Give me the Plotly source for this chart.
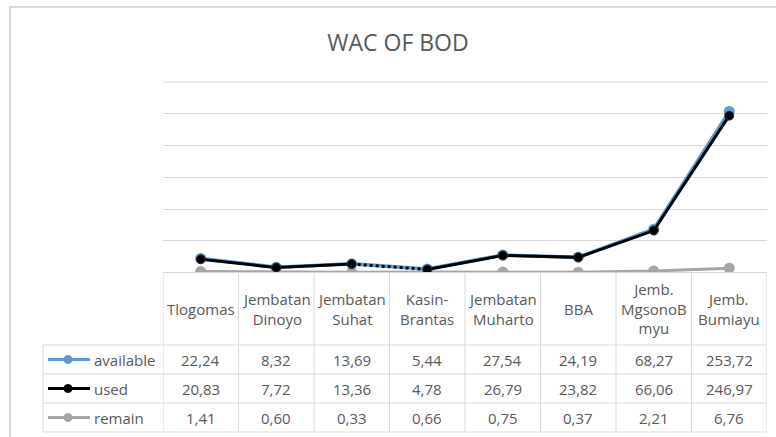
import plotly.graph_objects as go

W, H = 776, 437

categories = ['Tlogomas', 'Jembatan Dinoyo', 'Jembatan Suhat', 'Kasin-Brantas',
              'Jembatan Muharto', 'BBA', 'Jemb. MgsonoBmyu', 'Jemb. Bumiayu']
header_labels = ['Tlogomas', 'Jembatan<br>Dinoyo', 'Jembatan<br>Suhat', 'Kasin-<br>Brantas',
                 'Jembatan<br>Muharto', 'BBA', 'Jemb.<br>MgsonoB<br>myu', 'Jemb.<br>Bumiayu']
available = [22.24, 8.32, 13.69, 5.44, 27.54, 24.19, 68.27, 253.72]
used = [20.83, 7.72, 13.36, 4.78, 26.79, 23.82, 66.06, 246.97]
remain = [1.41, 0.60, 0.33, 0.66, 0.75, 0.37, 2.21, 6.76]
y_grid = [0, 50, 100, 150, 200, 250, 300]

BLUE = '#5B9BD5'
BLACK = '#000000'
GRAY = '#A5A5A5'
GRID = '#D9D9D9'
TEXT = '#595959'
FONT = 'Open Sans'
FS = 15


def px(x):
    return x / W


def py(y):
    return 1 - y / H


fig = go.Figure()

fig.add_trace(go.Scatter(
    x=categories, y=remain, mode='lines+markers', name='remain',
    line=dict(color=GRAY, width=3), marker=dict(size=11, color=GRAY)))

fig.add_trace(go.Scatter(
    x=categories, y=available, mode='lines+markers', name='available',
    line=dict(color=BLUE, width=3.5), marker=dict(size=11, color=BLUE)))

# used line: solid except the Suhat -> Kasin-Brantas segment, which is dotted
fig.add_trace(go.Scatter(
    x=categories[:3], y=used[:3], mode='lines', showlegend=False,
    line=dict(color=BLACK, width=3)))
fig.add_trace(go.Scatter(
    x=categories[3:], y=used[3:], mode='lines', showlegend=False,
    line=dict(color=BLACK, width=3)))
fig.add_trace(go.Scatter(
    x=categories[2:4], y=used[2:4], mode='lines', showlegend=False,
    line=dict(color=BLACK, width=3, dash='dot')))
fig.add_trace(go.Scatter(
    x=categories, y=used, mode='markers', name='used',
    marker=dict(size=9, color=BLACK, line=dict(color='#333333', width=1))))

shapes = []
annotations = []

# outer chart border
shapes.append(dict(type='rect', xref='paper', yref='paper',
                   x0=px(10), x1=px(790), y0=py(450), y1=py(7),
                   line=dict(color='#D9D9D9', width=2)))

# top gridline (plotly skips the one on the plot edge), drawn in paper coords
t_left, t_right = 163, 767
plot_top, plot_bottom = 82, 272.5
shapes.append(dict(type='line', xref='paper', yref='paper',
                   x0=px(t_left), x1=px(t_right), y0=py(plot_top), y1=py(plot_top),
                   line=dict(color=GRID, width=1)))

# data table grid
label_left = 43
row_lines = [345, 374, 403, 432]
shapes.append(dict(type='line', xref='paper', yref='paper',
                   x0=px(t_left), x1=px(t_right), y0=py(plot_bottom), y1=py(plot_bottom),
                   line=dict(color=GRID, width=1)))
for ry in row_lines:
    shapes.append(dict(type='line', xref='paper', yref='paper',
                       x0=px(label_left), x1=px(t_right), y0=py(ry), y1=py(ry),
                       line=dict(color=GRID, width=1)))
shapes.append(dict(type='line', xref='paper', yref='paper',
                   x0=px(label_left), x1=px(label_left), y0=py(345), y1=py(432),
                   line=dict(color=GRID, width=1)))
for i in range(len(categories) + 1):
    shapes.append(dict(type='line', xref='x', yref='paper',
                       x0=i - 0.5, x1=i - 0.5, y0=py(plot_bottom), y1=py(432),
                       line=dict(color=GRID, width=1)))

# header row (category names)
for cat, lab in zip(categories, header_labels):
    annotations.append(dict(x=cat, y=py(308.5), xref='x', yref='paper',
                            text=lab, showarrow=False, yanchor='middle',
                            font=dict(family=FONT, size=FS, color=TEXT)))

# value rows with legend keys
rows = [('available', available, BLUE, 359.5),
        ('used', used, BLACK, 388.5),
        ('remain', remain, GRAY, 417.5)]
for name, vals, color, cy in rows:
    shapes.append(dict(type='line', xref='paper', yref='paper',
                       x0=px(48), x1=px(90), y0=py(cy), y1=py(cy),
                       line=dict(color=color, width=3)))
    shapes.append(dict(type='circle', xref='paper', yref='paper',
                       x0=px(64), x1=px(72), y0=py(cy + 4), y1=py(cy - 4),
                       fillcolor=color, line=dict(color=color, width=1)))
    annotations.append(dict(x=px(92), y=py(cy), xref='paper', yref='paper',
                            text=name, showarrow=False, xanchor='left', yanchor='middle',
                            font=dict(family=FONT, size=FS, color=TEXT)))
    for cat, v in zip(categories, vals):
        annotations.append(dict(x=cat, y=py(cy), xref='x', yref='paper',
                                text=f'{v:.2f}'.replace('.', ','), showarrow=False,
                                yanchor='middle',
                                font=dict(family=FONT, size=FS, color=TEXT)))

fig.update_layout(
    width=W, height=H,
    margin=dict(l=0, r=0, t=0, b=0),
    paper_bgcolor='white', plot_bgcolor='white',
    showlegend=False,
    title=dict(text='WAC OF BOD', x=px(398), y=py(43), xanchor='center', yanchor='middle',
               font=dict(family=FONT, size=23, color=TEXT)),
    shapes=shapes,
    annotations=annotations,
)

fig.update_xaxes(domain=[px(t_left), px(t_right)], range=[-0.5, 7.5],
                 showticklabels=False, showgrid=False, zeroline=False, showline=False)
fig.update_yaxes(domain=[py(plot_bottom), py(plot_top)], range=[0, 300],
                 tickmode='array', tickvals=y_grid,
                 showticklabels=False, gridcolor=GRID, gridwidth=1,
                 zeroline=True, zerolinecolor=GRID, zerolinewidth=1, showline=False)

fig.write_html('out.html', config={'displayModeBar': False},
               post_script="document.body.style.margin='0';")
